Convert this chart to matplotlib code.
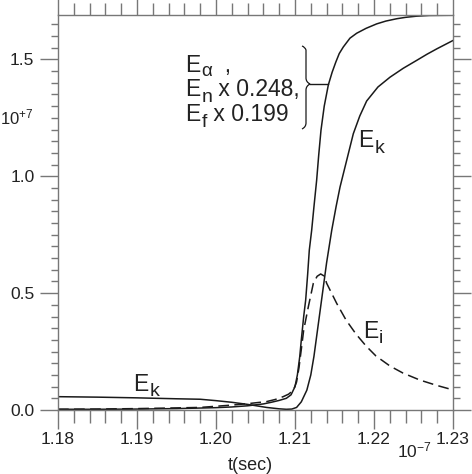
import matplotlib
matplotlib.use("Agg")
import matplotlib.pyplot as plt
from matplotlib.path import Path
from matplotlib.patches import PathPatch
from matplotlib.ticker import MultipleLocator

plt.rcParams['font.family'] = ['Liberation Sans', 'DejaVu Sans']
plt.rcParams['mathtext.fontset'] = 'custom'
plt.rcParams['mathtext.rm'] = 'Liberation Sans'
plt.rcParams['mathtext.it'] = 'Liberation Sans'
plt.rcParams['mathtext.sf'] = 'Liberation Sans'

# time in units of 1e-7 s, energies in units of 1e+7
t_alpha = [1.180, 1.185, 1.190, 1.195, 1.200, 1.202, 1.204, 1.206, 1.207, 1.208,
           1.2089, 1.2095, 1.2100, 1.2103, 1.2106, 1.2108, 1.2111, 1.21135,
           1.2116, 1.21181, 1.21211, 1.2124, 1.21274, 1.2130, 1.21329, 1.2137,
           1.21422, 1.2147, 1.21516, 1.2156, 1.21611, 1.21696, 1.21781, 1.2190,
           1.22034, 1.2215, 1.22287, 1.2240, 1.2254, 1.2270, 1.2300]
e_alpha = [0.003, 0.003, 0.004, 0.006, 0.010, 0.013, 0.018, 0.026, 0.033, 0.041,
           0.050, 0.065, 0.100, 0.150, 0.228, 0.300, 0.400, 0.470,
           0.580, 0.684, 0.769, 0.870, 0.983, 1.090, 1.197, 1.300,
           1.391, 1.445, 1.488, 1.525, 1.553, 1.591, 1.612, 1.633,
           1.652, 1.664, 1.674, 1.680, 1.685, 1.688, 1.689]

t_k = [1.180, 1.185, 1.190, 1.195, 1.198, 1.200, 1.202, 1.204, 1.2064, 1.2080,
       1.2089, 1.2096, 1.2102, 1.2108, 1.2115, 1.2120, 1.2124, 1.2128, 1.2132,
       1.2136, 1.2140, 1.21465, 1.2152, 1.2157, 1.21654, 1.21738, 1.2182,
       1.21907, 1.2205, 1.22203, 1.2237, 1.22541, 1.2267, 1.22794, 1.2300]
e_k = [0.057, 0.055, 0.052, 0.048, 0.046, 0.040, 0.033, 0.024, 0.011, 0.005,
       0.003, 0.004, 0.011, 0.035, 0.085, 0.150, 0.230, 0.330, 0.430,
       0.530, 0.630, 0.769, 0.870, 0.954, 1.068, 1.182, 1.258,
       1.322, 1.382, 1.424, 1.462, 1.496, 1.522, 1.545, 1.581]

t_i = [1.180, 1.185, 1.190, 1.195, 1.198, 1.202, 1.204, 1.2064, 1.2075, 1.2085,
       1.2092, 1.2098, 1.2102, 1.2105, 1.2108, 1.2111, 1.21169, 1.21232, 1.2128,
       1.21325, 1.2137, 1.21401, 1.21528, 1.21646, 1.21772, 1.21899, 1.22025,
       1.22203, 1.22367, 1.22582, 1.22797, 1.2300]
e_i = [0.003, 0.004, 0.006, 0.009, 0.011, 0.021, 0.027, 0.036, 0.045, 0.057,
       0.068, 0.085, 0.120, 0.180, 0.260, 0.342, 0.442, 0.542, 0.572,
       0.582, 0.573, 0.542, 0.456, 0.385, 0.325, 0.274, 0.231,
       0.188, 0.158, 0.128, 0.105, 0.086]

x_ticks = [1.18, 1.19, 1.20, 1.21, 1.22, 1.23]
x_labels = ['1.18', '1.19', '1.20', '1.21', '1.22', '1.23']
y_ticks = [0.0, 0.5, 1.0, 1.5]
y_labels = ['0.0', '0.5', '1.0', '1.5']

fig = plt.figure(figsize=(4.72, 4.74), dpi=100)
ax = fig.add_axes([58/472, 64/474, 395/472, 395/474])

lc = '#1a1a1a'
ax.plot(t_alpha, e_alpha, color=lc, lw=1.1)
ax.plot(t_k, e_k, color=lc, lw=1.1)
ax.plot(t_i, e_i, color=lc, lw=1.1, dashes=(7, 3.5))

ax.set_xlim(1.18, 1.23)
ax.set_ylim(0, 1.69)
ax.xaxis.set_minor_locator(MultipleLocator(0.002))
ax.yaxis.set_minor_locator(MultipleLocator(0.05))
ax.set_xticks(x_ticks)
ax.set_xticklabels(x_labels)
ax.set_yticks(y_ticks)
ax.set_yticklabels(y_labels)

gray = '#777777'
for s in ax.spines.values():
    s.set_color(gray)
    s.set_linewidth(1.0)
ax.tick_params(which='both', direction='out', top=True, right=True,
               color=gray, width=1.0, labelsize=12.5, labelcolor='#222222')
ax.tick_params(axis='x', which='major', length=14, pad=2)
ax.tick_params(axis='x', which='minor', length=9)
ax.tick_params(axis='y', which='major', length=13, pad=4)
ax.tick_params(axis='y', which='minor', length=5)

def fx(px):
    return px / 472
def fy(py):
    return 1 - py / 474

tc = '#222222'
fig.text(fx(250), fy(470), 't(sec)', ha='center', va='baseline', fontsize=13, color=tc)
fig.text(fx(397), fy(457), r'$10^{-7}$', ha='left', va='baseline', fontsize=12.5, color=tc)
fig.text(fx(0), fy(124), r'$10^{+7}$', ha='left', va='baseline', fontsize=12, color=tc)

renderer = fig.canvas.get_renderer()
lab = 16.5
sublab = 14

def sub_label(px, py, sub, rest='', shift=6, size=sublab):
    """Draw 'E' with a near full-size lowered subscript, then optional rest."""
    t1 = fig.text(fx(px), fy(py), 'E', fontsize=lab, color=tc, va='baseline')
    bb = t1.get_window_extent(renderer=renderer)
    x2 = bb.x1 + 1
    t2 = fig.text(x2 / 472, fy(py + shift), sub, fontsize=size, color=tc, va='baseline')
    if rest:
        bb2 = t2.get_window_extent(renderer=renderer)
        fig.text(bb2.x1 / 472, fy(py), rest, fontsize=lab, color=tc, va='baseline')

sub_label(185, 72, '\u03b1', '  ,', shift=4, size=13.5)
sub_label(185, 96, 'n', ' x 0.248,', shift=6)
sub_label(185, 121, 'f', ' x 0.199', shift=6)
sub_label(358, 147, 'k', shift=6)
sub_label(363, 338, 'i', shift=5)
sub_label(133, 391, 'k', shift=5)

# brace in pixel coordinates of the figure
def P(px, py):
    return (px, 474 - py)
verts = [P(302, 46), P(305, 47), P(306, 50), P(306, 55),
         P(306, 78), P(306, 82), P(310, 84),
         P(306, 86), P(306, 90), P(306, 100),
         P(306, 123), P(306, 127), P(302, 129)]
codes = [Path.MOVETO, Path.CURVE3, Path.CURVE3, Path.LINETO,
         Path.LINETO, Path.CURVE3, Path.CURVE3,
         Path.CURVE3, Path.CURVE3, Path.LINETO,
         Path.LINETO, Path.CURVE3, Path.CURVE3]
brace = PathPatch(Path(verts, codes), transform=None, fill=False,
                  edgecolor=lc, lw=0.9)
fig.patches.append(brace)
fig.add_artist(plt.Line2D([310/472, 328/472], [fy(84), fy(84)],
                          transform=fig.transFigure, color=lc, lw=1.0))

fig.savefig('out.png', dpi=100)
